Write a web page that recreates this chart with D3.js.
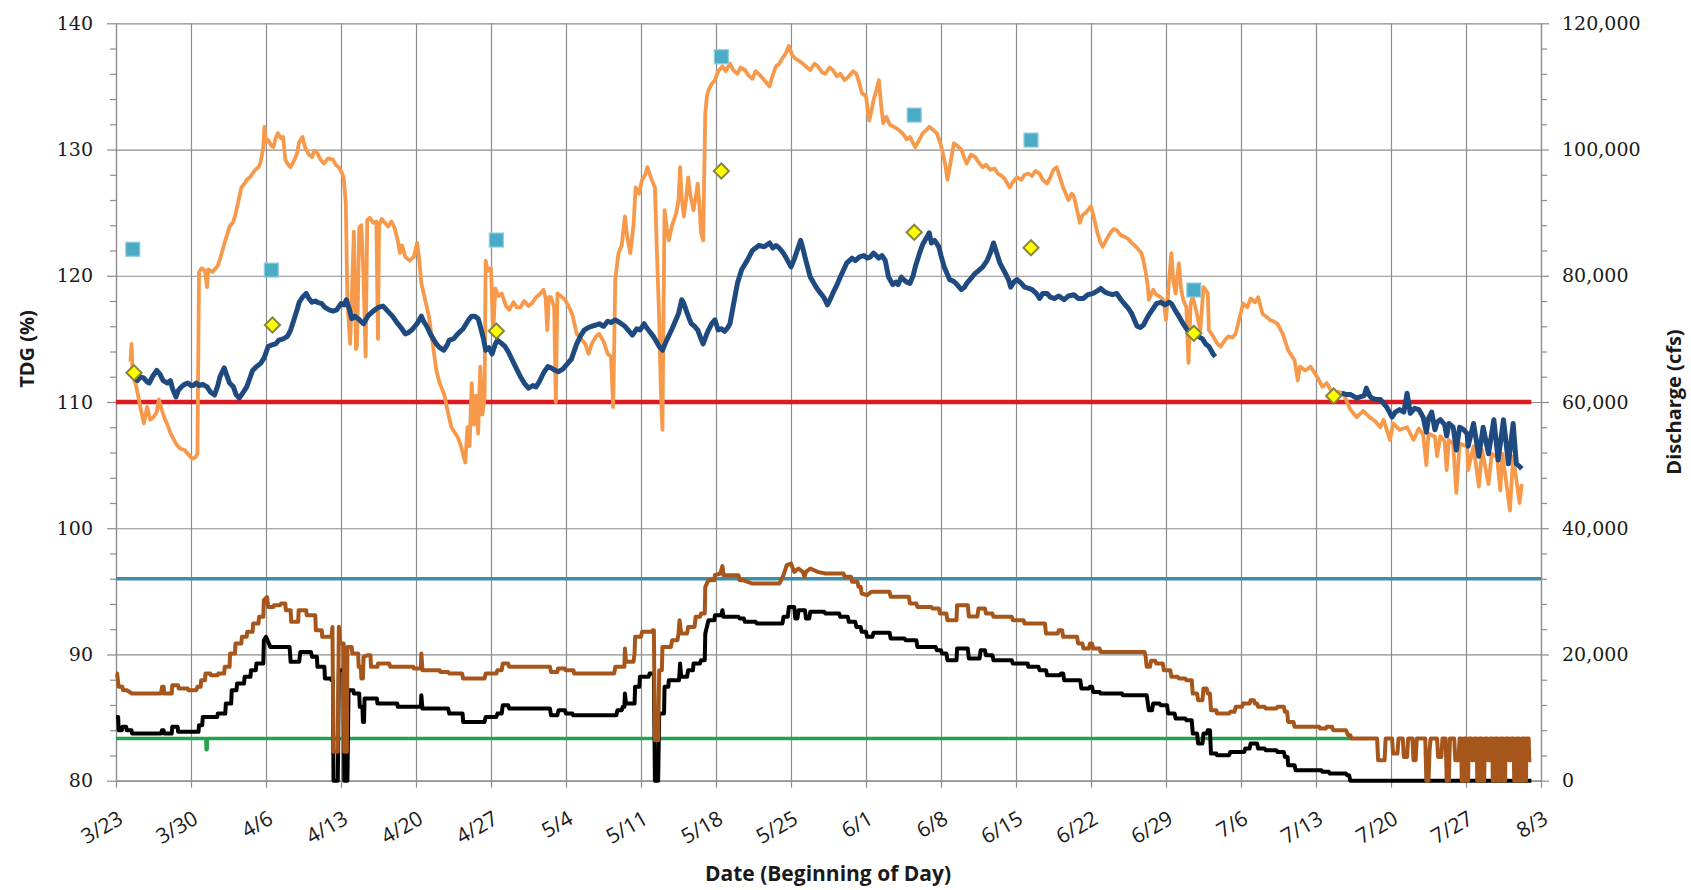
<!DOCTYPE html>
<html><head><meta charset="utf-8">
<script src="https://cdn.jsdelivr.net/npm/d3@7"></script>
<style>
html,body{margin:0;padding:0;background:#fff;}
svg{display:block;}
</style></head><body>
<svg id="chart" width="1691" height="890"></svg>
<script>
// ---------- DATA (x = days after 3/23) ----------
const xTickLabels = ["3/23","3/30","4/6","4/13","4/20","4/27","5/4","5/11","5/18","5/25","6/1","6/8","6/15","6/22","6/29","7/6","7/13","7/20","7/27","8/3"];
const tdgTicks = [80,90,100,110,120,130,140];
const dischargeTicks = [0,20000,40000,60000,80000,100000,120000];

const tdgLimit = 110;            // red line (%)
const dischargeThreshold = 32000; // teal line (cfs)

// Tailwater TDG (%), orange
const tailwaterTDG = [
[1.35,113.2],[1.45,114.6],[1.55,112.3],[1.9,111.2],[2.3,109.5],[2.6,108.3],[2.9,109.6],[3.2,108.6],[3.5,108.8],[3.8,109.2],[4.0,110.2],[4.3,109.3],[4.5,108.8],[4.8,108.2],[5.1,107.5],[5.6,106.7],[6.0,106.3],[6.4,106.2],[6.8,105.8],[7.1,105.5],[7.4,105.6],[7.6,105.9],[7.75,120.3],[8.0,120.6],[8.3,120.4],[8.5,119.1],[8.6,120.5],[9.0,120.3],[9.5,120.8],[9.7,121.3],[10.1,122.5],[10.6,123.9],[10.9,124.2],[11.1,124.7],[11.4,125.8],[11.7,127.0],[12.0,127.3],[12.2,127.6],[12.5,127.8],[12.75,128.1],[13.0,128.4],[13.3,128.6],[13.5,129.0],[13.75,130.2],[13.85,131.8],[14.0,130.6],[14.2,130.75],[14.5,130.3],[14.7,130.2],[14.9,130.9],[15.1,131.3],[15.4,130.9],[15.6,131.0],[15.8,129.2],[16.0,128.9],[16.3,128.6],[16.6,129.1],[16.9,129.7],[17.1,130.6],[17.4,131.0],[17.6,130.3],[17.75,130.0],[18.0,129.6],[18.3,129.4],[18.5,129.9],[18.8,129.7],[19.1,129.2],[19.4,128.9],[19.8,129.3],[20.25,129.2],[20.5,128.8],[20.8,128.6],[21.0,128.3],[21.25,127.8],
[21.45,125.7],[21.6,118],[21.85,114.6],[22.0,118],[22.2,123.5],[22.4,114.2],[22.5,114.5],[22.7,123.8],[22.9,124.0],[23.1,120],[23.3,113.6],[23.45,124.4],[23.7,124.6],[24.0,124.2],[24.3,124.3],[24.45,115.0],[24.55,124.0],[24.8,124.5],[25.1,124.2],[25.4,123.9],[25.7,124.3],[26.0,123.8],[26.3,122.8],[26.5,121.8],[26.7,122.4],[27.0,121.5],[27.4,121.2],[27.8,121.5],[28.1,122.6],[28.3,121.3],[28.5,119.4],[28.8,118.3],[29.2,116.8],[29.5,115.0],[29.9,112.5],[30.2,111.5],[30.6,110.7],[31.0,109.1],[31.3,108.0],[31.6,107.6],[31.9,107.2],[32.2,106.5],[32.6,105.2],
[32.8,108.0],[33.0,106.5],[33.2,111.5],[33.4,108.2],[33.6,110.5],[33.8,107.5],[34.0,112.8],[34.2,109.0],[34.4,110.3],[34.5,121.2],[34.7,120.4],[35.0,120.6],[35.2,115.4],[35.4,119.0],[35.7,118.4],[36.0,118.6],[36.4,117.6],[36.7,117.3],[37.1,117.9],[37.4,117.5],[37.75,117.5],[38.1,118.0],[38.5,117.6],[38.8,117.8],[39.2,118.3],[39.5,118.5],[39.9,118.9],[40.1,118.2],[40.25,115.7],[40.4,118.3],[40.6,118.3],[40.9,117.5],[41.05,110.0],[41.2,118.6],[41.5,118.4],[41.9,118.1],[42.3,117.5],[42.6,116.9],[43.0,115.4],[43.4,115.0],[43.8,114.6],[44.1,113.8],[44.4,114.6],[44.8,115.2],[45.1,115.4],[45.5,114.8],[45.9,113.8],[46.2,113.6],[46.4,109.6],[46.6,119.7],[46.9,121.8],[47.2,122.4],[47.5,124.7],[47.7,123.2],[48.0,121.8],[48.3,124.0],[48.5,127.0],[48.8,126.5],[49.1,127.6],[49.4,128.0],[49.6,128.6],[49.8,128.1],[50.0,127.6],[50.3,127.0],
[50.5,121.5],[50.7,116.5],[50.85,111],[51.0,107.8],[51.1,117],[51.2,125.2],[51.4,123.8],[51.6,122.8],[51.9,124.0],[52.3,125.0],[52.5,126.0],[52.65,128.6],[52.8,126.2],[53.0,124.7],[53.2,126.0],[53.4,127.8],[53.6,126.4],[53.9,125.2],[54.1,126.2],[54.3,127.3],[54.5,125.0],[54.6,123.4],[54.8,122.8],[55.0,132.9],[55.15,134.2],[55.3,134.7],[55.6,135.2],[55.9,135.5],[56.2,136.2],[56.6,136.6],[56.9,136.2],[57.3,136.8],[57.6,136.3],[58.0,136.0],[58.3,136.5],[58.7,136.3],[59.0,135.9],[59.4,135.6],[59.7,136.2],[60.1,135.9],[60.5,135.5],[61.0,135.0],[61.3,135.9],[61.6,136.6],[61.9,136.8],[62.1,137.1],[62.5,137.6],[62.8,138.2],[63.1,137.5],[63.4,137.2],[63.8,137.0],[64.1,136.8],[64.5,136.5],[64.8,136.3],[65.2,136.8],[65.5,136.6],[65.9,136.1],[66.2,136.0],[66.6,136.5],[66.9,136.3],[67.3,135.8],[67.6,136.0],[68.0,135.5],[68.4,135.8],[68.8,136.2],[69.1,136.0],[69.4,135.2],[69.6,134.5],[70.0,134.2],[70.3,132.3],[70.5,133.0],[70.7,133.9],[71.0,134.8],[71.2,135.5],[71.4,133.6],[71.6,132.1],[71.9,132.6],[72.2,132.0],[72.6,131.8],[73.0,131.6],[73.4,131.3],[73.8,130.8],[74.1,131.0],[74.4,130.5],[74.6,130.2],[75.0,130.8],[75.3,131.3],[75.6,131.5],[75.9,131.8],[76.2,131.6],[76.6,131.3],[76.9,130.6],[77.1,130.0],[77.4,128.8],[77.6,127.6],[77.9,129.0],[78.2,130.5],[78.5,130.3],[78.9,130.0],[79.2,129.3],[79.4,128.9],[79.8,129.6],[80.2,129.4],[80.5,129.0],[80.9,128.6],[81.2,128.8],[81.6,128.4],[82.0,128.5],[82.3,128.1],[82.7,127.9],[83.0,127.6],[83.4,127.0],[83.7,127.4],[84.1,127.8],[84.5,127.6],[84.8,128.0],[85.15,128.1],[85.5,127.9],[85.8,128.3],[86.2,128.1],[86.5,127.6],[86.9,127.3],[87.2,127.8],[87.5,128.4],[87.8,128.6],[88.1,127.8],[88.4,127.0],[88.7,126.4],[88.9,126.0],[89.2,126.5],[89.4,126.3],[89.7,125.2],[89.96,124.2],[90.2,124.8],[90.5,125.0],[90.8,125.3],[91.0,125.5],[91.3,124.5],[91.6,123.4],[91.9,122.6],[92.1,122.3],[92.4,122.8],[92.8,123.4],[93.1,123.7],[93.4,123.6],[93.8,123.2],[94.1,123.1],[94.5,122.9],[94.8,122.6],[95.2,122.3],[95.5,122.0],[95.7,121.8],[95.9,121.2],[96.1,120.3],[96.3,119.2],[96.4,118.1],[96.8,118.9],[97.1,118.5],[97.5,118.3],[97.8,118.0],[98.0,116.5],[98.2,118.7],[98.5,121.8],[98.7,119.5],[98.9,118.6],[99.2,121.0],[99.4,119.0],[99.6,118.1],[99.9,117.5],[100.1,113.1],[100.3,117.8],[100.5,118.3],[100.8,117.3],[101.2,115.7],[101.5,119.1],[101.9,118.6],[102.0,115.7],[102.4,115.2],[102.8,114.6],[103.1,114.4],[103.5,114.9],[103.8,115.2],[104.2,115.1],[104.5,115.4],[104.9,116.8],[105.2,117.8],[105.6,117.5],[105.9,118.2],[106.3,117.9],[106.6,118.3],[107.0,117.0],[107.3,116.8],[107.7,116.5],[108.0,116.4],[108.4,116.2],[108.9,115.4],[109.4,114.1],[110.0,113.3],[110.3,111.7],[110.5,112.8],[111.0,112.5],[111.5,112.8],[112.1,112.0],[112.6,111.2],[113.0,111.5],[113.4,110.9],[113.7,110.4],[114.0,110.8],[114.55,110.7],[115.2,109.4],[115.8,108.8],[116.4,109.3],[117.0,108.8],[117.5,108.5],[118.0,108.0],[118.3,108.6],[118.9,107.0],[119.2,108.3],[119.8,107.8],[120.5,108.0],[121.1,107.0],[121.6,107.9],[122.0,107.4],[122.3,105.0],[122.5,107.5],[123.1,107.25],[123.3,105.7],[123.6,107.3],[124.0,106.9],[124.2,104.6],[124.4,107.0],[124.8,106.7],[125.1,102.8],[125.4,106.7],[126.1,106.5],[126.2,104.6],[126.7,106.5],[127.2,103.3],[127.5,106.2],[128.1,103.5],[128.4,105.9],[128.9,105.6],[129.2,103.0],[129.4,105.9],[130.1,101.4],[130.4,105.7],[131.0,102.0],[131.2,103.5]
];

// Forebay TDG (%), navy — two recorded periods
const forebayTDG_A = [
[1.45,112.3],[1.7,111.9],[2.0,111.7],[2.3,112.0],[2.6,111.9],[2.9,111.6],[3.1,111.5],[3.4,112.0],[3.8,112.5],[4.1,112.2],[4.4,111.7],[4.8,111.5],[5.07,111.7],[5.3,111.0],[5.6,110.4],[5.8,110.9],[6.1,111.2],[6.4,111.4],[6.7,111.5],[7.0,111.3],[7.2,111.3],[7.5,111.5],[7.75,111.3],[8.1,111.4],[8.5,111.2],[8.8,110.8],[9.2,110.55],[9.5,111.3],[9.7,112.0],[10.1,112.7],[10.3,112.2],[10.6,111.5],[10.96,111.2],[11.2,110.6],[11.5,110.3],[11.9,110.8],[12.2,111.2],[12.5,111.9],[12.75,112.5],[13.1,112.8],[13.5,113.06],[13.8,113.46],[14.0,113.9],[14.2,114.4],[14.5,114.5],[14.9,114.6],[15.2,114.9],[15.6,115.0],[16.0,115.2],[16.3,115.7],[16.6,116.5],[16.9,117.3],[17.1,117.9],[17.4,118.3],[17.75,118.6],[18.0,118.2],[18.3,117.9],[18.6,118.0],[18.8,117.9],[19.2,117.8],[19.5,117.5],[19.9,117.3],[20.25,117.2],[20.6,117.3],[21.0,117.8],[21.3,117.7],[21.5,118.1],[21.8,117.3],[22.0,116.6],[22.3,116.8],[22.6,116.6],[23.1,116.2],[23.5,116.8],[24.0,117.2],[24.5,117.5],[24.9,117.6],[25.25,117.3],[25.8,116.8],[26.3,116.2],[26.6,115.9],[27.0,115.4],[27.3,115.5],[27.6,115.7],[28.1,116.2],[28.5,116.8],[28.7,116.4],[29.0,116.0],[29.4,115.3],[29.9,114.6],[30.2,114.3],[30.6,114.1],[30.9,114.5],[31.1,114.9],[31.5,115.0],[31.9,115.4],[32.4,115.8],[32.9,116.5],[33.2,116.8],[33.5,116.8],[33.8,116.6],[34.0,116.0],[34.3,115.0],[34.5,114.1],[34.8,114.3],[35.1,113.8],[35.4,114.6],[35.6,114.9],[35.9,114.7],[36.3,114.4],[36.6,114.0],[37.0,113.3],[37.4,112.6],[37.75,112.0],[38.1,111.5],[38.5,111.1],[38.9,111.3],[39.2,111.2],[39.5,111.6],[39.9,112.3],[40.3,112.8],[40.6,112.7],[41.0,112.5],[41.3,112.4],[41.7,112.6],[42.1,113.0],[42.5,113.4],[43.0,114.6],[43.4,115.3],[43.7,115.7],[44.1,115.9],[44.4,116.0],[44.8,116.1],[45.1,116.2],[45.5,116.0],[45.9,116.4],[46.2,116.3],[46.6,116.5],[47.0,116.3],[47.5,116.0],[47.9,115.6],[48.2,115.3],[48.6,115.8],[48.9,115.7],[49.3,116.2],[49.6,115.8],[50.15,115.2],[50.5,114.7],[50.7,114.4],[51.0,114.1],[51.4,114.9],[51.9,115.8],[52.3,116.6],[52.5,117.0],[52.8,118.1],[53.0,117.8],[53.2,117.3],[53.5,116.6],[53.7,116.2],[54.0,116.0],[54.3,115.7],[54.6,115.0],[54.8,114.6],[55.1,115.3],[55.3,115.7],[55.6,116.2],[55.9,116.5],[56.2,115.7],[56.5,115.8],[56.8,115.6],[57.1,115.9],[57.3,116.2],[57.65,117.8],[58.0,119.4],[58.4,120.5],[58.9,121.2],[59.4,122.0],[60.0,122.4],[60.5,122.3],[61.0,122.6],[61.3,122.2],[61.6,122.4],[61.9,122.2],[62.2,121.9],[62.5,121.5],[63.0,120.7],[63.3,121.3],[63.5,121.8],[63.9,122.8],[64.1,122.2],[64.3,121.5],[64.8,119.9],[65.2,119.3],[65.5,118.9],[66.05,118.3],[66.4,117.7],[66.7,118.2],[66.9,118.6],[67.3,119.3],[67.6,119.9],[68.2,121.0],[68.7,121.4],[69.0,121.2],[69.4,121.5],[69.8,121.6],[70.1,121.4],[70.4,121.5],[70.7,121.8],[71.2,121.4],[71.5,121.6],[71.8,121.2],[72.1,119.9],[72.5,119.3],[72.8,119.5],[73.0,119.3],[73.3,119.9],[73.5,119.7],[73.8,119.5],[74.1,119.4],[74.4,120.0],[74.6,120.7],[75.0,121.8],[75.3,122.5],[75.5,122.8],[75.7,123.1],[75.9,123.4],[76.1,122.6],[76.4,122.8],[76.8,122.3],[77.0,121.6],[77.3,120.7],[77.6,120.1],[77.8,119.7],[78.1,119.6],[78.4,119.4],[78.9,118.9],[79.2,119.1],[79.4,119.4],[79.8,119.8],[80.2,120.2],[80.5,120.4],[80.9,120.7],[81.3,121.2],[81.6,121.8],[81.9,122.6],[82.2,121.8],[82.5,121.0],[83.0,120.2],[83.3,119.7],[83.5,119.1],[83.8,119.5],[84.1,119.7],[84.5,119.4],[84.8,119.1],[85.2,119.0],[85.5,118.9],[85.9,118.6],[86.2,118.2],[86.5,118.6],[86.9,118.6],[87.2,118.3],[87.6,118.2],[88.0,118.4],[88.5,118.1],[88.9,118.4],[89.4,118.5],[89.8,118.2],[90.3,118.2],[90.7,118.5],[91.2,118.6],[91.6,118.8],[91.9,119.0],[92.3,118.7],[92.6,118.6],[93.0,118.5],[93.4,118.6],[93.8,118.1],[94.1,117.8],[94.5,117.4],[94.8,117.0],[95.1,116.4],[95.3,116.0],[95.6,115.9],[95.9,116.1],[96.2,116.6],[96.4,116.9],[96.8,117.4],[97.1,117.8],[97.5,117.9],[97.9,117.7],[98.3,117.9],[98.5,117.8],[98.9,117.2],[99.2,116.8],[99.6,116.2],[100.0,115.7],[100.3,115.4],[100.7,115.5],[101.0,115.2],[101.4,115.0],[101.7,114.6],[102.0,114.4],[102.4,113.8],[102.6,113.6]
];
const forebayTDG_B = [
[114.4,110.7],[114.8,110.6],[115.2,110.6],[115.8,110.3],[116.1,110.4],[116.5,110.5],[116.7,111.1],[117.0,110.5],[117.2,110.3],[117.6,110.2],[118.0,110.2],[118.6,109.6],[119.1,108.8],[119.4,109.2],[119.8,109.4],[120.2,109.2],[120.5,110.7],[120.8,109.1],[121.2,109.5],[121.6,109.4],[122.0,108.8],[122.3,107.6],[122.5,108.7],[122.8,109.2],[123.1,107.8],[123.3,108.4],[123.6,108.6],[124.0,108.2],[124.2,107.3],[124.4,108.3],[124.8,108.0],[125.1,106.2],[125.4,108.0],[125.8,107.8],[126.1,107.5],[126.2,106.5],[126.7,108.3],[127.2,105.7],[127.6,108.0],[128.1,105.9],[128.6,108.6],[129.0,105.4],[129.5,108.6],[129.96,105.1],[130.4,108.3],[130.7,105.1],[131.0,104.9],[131.2,104.7]
];

// Total discharge (cfs), brown
const totalDischarge = [
[0,17000],[0.1,17000],[0.25,14870],[0.6,14870],[0.65,14340],[1.0,14340],[1.5,13810],[4.2,13810],[4.3,14870],[4.45,14870],[4.5,13810],[5.2,13810],[5.25,15130],[5.8,15130],[5.85,14600],[6.7,14600],[6.75,14340],[7.5,14340],[7.6,14870],[7.9,14870],[7.95,15920],[8.3,15920],[8.35,16980],[8.8,16980],[8.85,16710],[9.5,16710],[9.55,16980],[10.1,16980],[10.15,18040],[10.6,18040],[10.65,20150],[11.1,20150],[11.15,21730],[11.7,21730],[11.75,22790],[12.2,22790],[12.25,23580],[12.75,23580],[12.8,24900],[13.3,24900],[13.35,25960],[13.75,25960],[13.8,28600],[14.1,29100],[14.2,27540],[14.7,27540],[14.75,27810],[15.3,27810],[15.4,28070],[15.8,28070],[15.85,27020],[16.3,27020],[16.35,25170],[17.0,25170],[17.05,27020],[17.75,27020],[17.8,26220],[18.6,26220],[18.65,23850],[19.2,23850],[19.25,22790],[20.1,22790],[20.2,24370],[20.3,4600],[20.7,4600],[20.8,24400],[20.9,21730],[21.25,21730],[21.3,4600],[21.55,4600],[21.6,21200],[22.0,21200],[22.05,20150],[22.6,20150],[22.65,18040],[22.85,18040],[22.9,16190],[23.05,16190],[23.1,19620],[23.5,19880],[23.75,19880],[23.8,18040],[24.4,18040],[24.45,18560],[25.5,18560],[25.6,18040],[27.75,18040],[27.8,17770],[28.45,17770],[28.5,20150],[28.6,17510],[30.2,17510],[30.25,17240],[31.0,17240],[31.1,16980],[32.3,16980],[32.4,16190],[34.4,16190],[34.5,16980],[35.5,16980],[35.6,17510],[36.0,17510],[36.1,18560],[36.6,18560],[36.7,18040],[40.5,18040],[40.6,17240],[41.2,17240],[41.25,17770],[41.9,17770],[41.95,17510],[42.7,17510],[42.75,16980],[46.5,16980],[46.6,18040],[47.45,18040],[47.5,20940],[47.6,18830],[48.3,18830],[48.4,20150],[48.45,22790],[49.0,22790],[49.1,23580],[50.0,23580],[50.1,23850],[50.2,23850],[50.3,6400],[50.6,6400],[50.7,17510],[50.95,17510],[51.0,21200],[51.8,21200],[51.9,22260],[52.4,22260],[52.5,23320],[52.6,25430],[52.75,23320],[53.3,23320],[53.4,24370],[54.0,24370],[54.1,25960],[54.5,25960],[54.6,26490],[54.95,26490],[55.0,30720],[55.3,31770],[55.85,31770],[55.9,32560],[56.4,32830],[56.6,33990],[56.7,32560],[58.1,32560],[58.2,31770],[58.5,31770],[59.4,31240],[61.9,31240],[62.0,31510],[62.3,32560],[62.6,34150],[63.0,34410],[63.3,33090],[63.7,33620],[64.1,33090],[64.25,32300],[64.4,33090],[64.8,33620],[65.5,33090],[66.2,32830],[67.9,32830],[68.0,32300],[68.6,32300],[68.7,31510],[69.2,31510],[69.3,30720],[69.5,30720],[69.6,29660],[70.1,29390],[70.5,29920],[72.2,29920],[72.3,29130],[74.0,29130],[74.1,28070],[74.7,28070],[74.8,27540],[76.1,27540],[76.2,27280],[76.8,27280],[76.9,26490],[77.5,26490],[77.6,25430],[78.45,25430],[78.5,27810],[79.5,27810],[79.6,26000],[80.4,26000],[80.5,27280],[81.1,27280],[81.2,26490],[81.8,26490],[81.9,25960],[83.6,25960],[83.7,25430],[84.7,25430],[84.8,24900],[86.7,24900],[86.8,23320],[87.9,23320],[88.0,23850],[88.3,23850],[88.4,22790],[89.7,22790],[89.8,21730],[90.2,21730],[90.3,20940],[90.8,20940],[90.9,21730],[91.1,21730],[91.2,20940],[91.8,20940],[91.9,20410],[96.0,20410],[96.1,19620],[96.2,18040],[96.5,18040],[96.6,19000],[97.0,19000],[97.1,18560],[97.7,18560],[97.8,17510],[98.4,17510],[98.5,16450],[99.1,16450],[99.2,16190],[99.8,16190],[99.9,15920],[100.4,15920],[100.5,13810],[100.9,13810],[101.0,12750],[101.4,12750],[101.5,14600],[101.8,14600],[101.9,13810],[102.1,13810],[102.2,11170],[102.7,11170],[102.75,10640],[103.9,10640],[104.0,10910],[104.4,10910],[104.5,11700],[105.1,11700],[105.2,12220],[105.8,12220],[105.9,12750],[106.2,12750],[106.3,12220],[106.5,12220],[106.6,11700],[107.2,11700],[107.3,11430],[108.3,11430],[108.4,11700],[109.0,11700],[109.1,10910],[109.3,10910],[109.4,9320],[109.9,9320],[110.0,8530],[112.3,8530],[112.4,8260],[112.9,8260],[113.0,8530],[113.5,8530],[113.6,8000],[114.8,8000],[115.0,7210],[115.2,7210],[115.3,6680],[117.7,6680],[117.8,3250],[118.4,3250],[118.5,6680],[119.1,6680],[119.2,4300],[119.6,4300],[119.7,6680],[120.1,6680],[120.2,3770],[120.5,3770],[120.6,6680],[121.0,6680],[121.1,3250],[121.3,3250],[121.4,6680],[122.2,6680],[122.3,0],[122.5,0],[122.6,4830],[122.7,6680],[123.3,6680],[123.4,3770],[123.7,3770],[123.8,6680],[124.1,6680],[124.2,0],[124.4,0],[124.5,6680],[124.9,6680],[125.0,3250],[125.3,3250],[125.4,6680],[125.55,6680],[125.6,0],[125.75,0],[125.8,6680],[126.0,6680],[126.05,0],[126.2,0],[126.25,6680],[126.5,6680],[126.55,3250],[126.7,3250],[126.75,6680],[127.0,6680],[127.05,0],[127.2,0],[127.25,6680],[127.5,6680],[127.55,0],[127.7,0],[127.75,6680],[128.0,6680],[128.05,3250],[128.2,3250],[128.25,6680],[128.45,6680],[128.5,0],[128.65,0],[128.7,6680],[128.95,6680],[129.0,0],[129.15,0],[129.2,6680],[129.45,6680],[129.5,0],[129.65,0],[129.7,6680],[129.95,6680],[130.0,3250],[130.15,3250],[130.2,6680],[130.45,6680],[130.5,0],[130.65,0],[130.7,6680],[130.95,6680],[131.0,0],[131.15,0],[131.2,6680],[131.45,6680],[131.5,0],[131.6,0],[131.65,6680],[131.85,6680],[131.9,3250],[132.1,3250]
];

// Spill discharge (cfs), black
const spillDischarge = [
[0,10110],[0.2,10110],[0.25,8000],[0.55,8000],[0.6,8530],[0.95,8530],[1.0,8000],[1.45,8000],[1.5,7470],[4.2,7470],[4.3,8000],[4.45,8000],[4.5,7470],[5.2,7470],[5.25,8530],[5.75,8530],[5.8,7740],[7.7,7740],[7.75,8790],[8.05,8790],[8.1,10110],[9.45,10110],[9.5,10640],[10.2,10640],[10.25,12220],[10.75,12220],[10.8,14340],[11.25,14340],[11.3,15400],[11.95,15400],[12.0,16450],[12.55,16450],[12.6,17510],[13.05,17510],[13.1,18560],[13.75,18560],[13.8,22260],[14.0,22800],[14.4,21200],[16.2,21200],[16.3,18830],[17.1,18830],[17.2,20410],[18.2,20410],[18.3,19620],[18.75,19620],[18.8,18040],[19.45,18040],[19.5,16190],[20.05,16190],[20.1,15920],[20.25,15920],[20.3,0],[20.7,0],[20.8,17510],[21.25,17510],[21.3,0],[21.6,0],[21.7,14340],[22.15,14340],[22.2,13810],[22.7,13810],[22.75,11700],[23.0,11700],[23.05,9320],[23.15,9320],[23.2,13020],[24.35,13020],[24.4,12220],[26.25,12220],[26.3,11700],[28.45,11700],[28.5,13550],[28.6,11430],[31.0,11430],[31.1,10640],[32.35,10640],[32.4,9320],[34.4,9320],[34.5,10110],[35.5,10110],[35.6,10640],[36.0,10640],[36.1,11960],[36.6,11960],[36.7,11430],[40.5,11430],[40.6,10380],[41.2,10380],[41.3,11170],[41.9,11170],[42.0,10640],[42.6,10640],[42.65,10380],[46.7,10380],[46.8,11170],[47.2,11170],[47.3,11700],[47.45,11700],[47.5,13810],[47.6,12220],[48.4,12220],[48.45,14870],[48.85,14870],[48.9,16450],[49.7,16450],[49.8,16980],[50.2,16980],[50.3,0],[50.6,0],[50.7,10640],[51.15,10640],[51.2,14870],[51.55,14870],[51.6,15920],[52.55,15920],[52.65,18560],[52.75,16450],[53.3,16450],[53.4,17510],[53.85,17510],[53.9,18560],[54.5,18560],[54.6,19090],[54.95,19090],[55.0,23320],[55.3,25430],[55.85,25430],[55.9,26220],[56.5,26220],[56.6,27020],[56.7,25960],[58.1,25960],[58.2,25700],[58.6,25700],[58.7,25170],[59.7,25170],[59.8,24900],[62.2,24900],[62.3,25960],[62.7,25960],[62.8,27540],[63.3,27540],[63.4,25700],[63.6,25700],[63.7,27020],[64.3,27020],[64.4,25700],[64.7,25700],[64.8,26750],[66.1,26750],[66.2,26490],[67.5,26490],[67.6,25960],[68.3,25960],[68.4,25170],[69.0,25170],[69.1,24370],[69.5,24370],[69.6,23580],[70.0,23580],[70.1,22790],[70.6,22790],[70.7,23450],[72.2,23450],[72.3,22530],[73.6,22530],[73.7,22260],[74.7,22260],[74.8,21200],[76.5,21200],[76.6,20680],[77.0,20680],[77.1,20150],[77.5,20150],[77.6,19090],[78.45,19090],[78.5,20940],[79.5,20940],[79.6,19350],[80.6,19350],[80.7,20680],[81.1,20680],[81.2,19880],[81.8,19880],[81.9,19090],[83.6,19090],[83.7,18560],[85.1,18560],[85.15,18040],[86.1,18040],[86.2,17510],[86.8,17510],[86.9,16710],[88.1,16710],[88.2,16980],[88.4,16980],[88.5,15920],[90.0,15920],[90.1,14600],[90.8,14600],[90.9,14870],[91.1,14870],[91.2,14070],[91.8,14070],[91.9,13810],[93.9,13810],[93.95,13540],[96.2,13540],[96.4,11170],[96.7,11170],[96.8,12220],[97.4,12220],[97.5,11960],[98.1,11960],[98.2,10640],[98.8,10640],[98.9,9850],[99.8,9850],[99.9,9580],[100.4,9580],[100.5,7470],[100.9,7470],[101.0,5890],[101.4,5890],[101.5,7470],[101.8,7470],[101.9,8000],[102.1,8000],[102.2,4300],[102.7,4300],[102.75,4030],[103.9,4030],[104.0,4560],[105.3,4560],[105.4,5090],[105.8,5090],[105.9,5890],[106.5,5890],[106.6,5090],[107.2,5090],[107.3,4830],[108.3,4830],[108.4,4560],[109.0,4560],[109.1,3770],[109.35,3770],[109.4,2450],[110.0,2450],[110.1,1660],[112.5,1660],[112.6,1400],[113.2,1400],[113.3,1130],[114.8,1130],[114.9,860],[115.1,860],[115.2,0],[132.1,0]
];

// Powerhouse discharge (cfs), green
const powerhouseDischarge = [[0,6680],[8.4,6680],[8.42,4930],[8.5,4930],[8.52,6680],[115.3,6680]];

// Spot samples (%): squares (light blue) and diamonds (yellow)
const sampleSquares = [[1.57,122.1],[14.5,120.45],[35.5,122.83],[56.5,137.35],[74.5,132.73],[85.4,130.75],[100.6,118.87]];
const sampleDiamonds = [[1.68,112.32],[14.6,116.1],[35.5,115.62],[56.5,128.3],[74.5,123.44],[85.4,122.22],[100.6,115.44],[113.65,110.47]];

// ---------- CHART ----------
const L = 116, R = 1541, T = 23.3, B = 780.7;
const svg = d3.select("#chart");

const x = d3.scaleLinear().domain([0, (xTickLabels.length - 1) * 7]).range([L, R]);
const yL = d3.scaleLinear().domain([80, 140]).range([B, T]);
const yR = d3.scaleLinear().domain([0, 120000]).range([B, T]);
const xTickVals = xTickLabels.map((_, i) => i * 7);

const gridColor = "#8c8c8c";

// gridlines
svg.append("g").attr("transform", `translate(${L},0)`)
  .call(d3.axisLeft(yL).tickValues(tdgTicks).tickSize(-(R - L)).tickFormat(""))
  .call(g => g.select(".domain").remove())
  .call(g => g.selectAll("line").attr("stroke", gridColor).attr("stroke-width", 1.2));
svg.append("g").attr("transform", `translate(0,${B})`)
  .call(d3.axisBottom(x).tickValues(xTickVals).tickSize(-(B - T)).tickFormat(""))
  .call(g => g.select(".domain").remove())
  .call(g => g.selectAll("line").attr("stroke", gridColor).attr("stroke-width", 1.2));

// left axis
const minorL = d3.range(82, 140, 2).filter(v => v % 10 !== 0);
svg.append("g").attr("transform", `translate(${L},0)`)
  .call(d3.axisLeft(yL).tickValues(minorL).tickSize(6).tickSizeOuter(0).tickFormat(""))
  .call(g => g.select(".domain").remove())
  .call(g => g.selectAll("line").attr("stroke", gridColor).attr("stroke-width", 1.2));
svg.append("g").attr("transform", `translate(${L},0)`)
  .call(d3.axisLeft(yL).tickValues(tdgTicks).tickSize(9).tickSizeOuter(0).tickPadding(14))
  .call(g => g.select(".domain").attr("stroke", gridColor).attr("stroke-width", 1.2))
  .call(g => g.selectAll("line").attr("stroke", gridColor).attr("stroke-width", 1.2))
  .call(g => g.selectAll("text").attr("font-family", "DejaVu Serif").attr("font-size", 19).attr("fill", "#1a1a1a"));

// right axis
const minorR = d3.range(4000, 120000, 4000).filter(v => v % 20000 !== 0);
svg.append("g").attr("transform", `translate(${R},0)`)
  .call(d3.axisRight(yR).tickValues(minorR).tickSize(6).tickSizeOuter(0).tickFormat(""))
  .call(g => g.select(".domain").remove())
  .call(g => g.selectAll("line").attr("stroke", gridColor).attr("stroke-width", 1.2));
svg.append("g").attr("transform", `translate(${R},0)`)
  .call(d3.axisRight(yR).tickValues(dischargeTicks).tickSize(8).tickSizeOuter(0).tickPadding(13).tickFormat(d3.format(",")))
  .call(g => g.select(".domain").attr("stroke", gridColor).attr("stroke-width", 1.2))
  .call(g => g.selectAll("line").attr("stroke", gridColor).attr("stroke-width", 1.2))
  .call(g => g.selectAll("text").attr("font-family", "DejaVu Serif").attr("font-size", 19).attr("fill", "#1a1a1a"));

// bottom axis
svg.append("g").attr("transform", `translate(0,${B})`)
  .call(d3.axisBottom(x).tickValues(xTickVals).tickSize(7).tickSizeOuter(0).tickFormat((d, i) => xTickLabels[i]))
  .call(g => g.select(".domain").attr("stroke", gridColor).attr("stroke-width", 1.2))
  .call(g => g.selectAll("line").attr("stroke", gridColor).attr("stroke-width", 1.2))
  .call(g => g.selectAll("text")
     .attr("x", 0).attr("y", 0).attr("dy", 0)
     .attr("text-anchor", "end")
     .attr("transform", "translate(8,42) rotate(-30)")
     .attr("font-family", "Open Sans").attr("font-size", 21).attr("fill", "#1a1a1a"));

// axis titles
svg.append("text").attr("transform", "translate(26,349) rotate(-90)")
  .attr("text-anchor", "middle").attr("dominant-baseline", "central")
  .attr("font-family", "Open Sans").attr("font-weight", "bold").attr("font-size", 20).attr("fill", "#1a1a1a")
  .text("TDG (%)");
svg.append("text").attr("transform", "translate(1673,402) rotate(-90)")
  .attr("text-anchor", "middle").attr("dominant-baseline", "central")
  .attr("font-family", "Open Sans").attr("font-weight", "bold").attr("font-size", 20).attr("fill", "#1a1a1a")
  .text("Discharge (cfs)");
svg.append("text").attr("x", 828).attr("y", 873)
  .attr("text-anchor", "middle").attr("dominant-baseline", "central")
  .attr("font-family", "Open Sans").attr("font-weight", "bold").attr("font-size", 21).attr("fill", "#1a1a1a")
  .text("Date (Beginning of Day)");

// lines
const lineT = d3.line().x(d => x(d[0])).y(d => yL(d[1]));
const lineQ = d3.line().x(d => x(d[0])).y(d => yR(d[1]));
function draw(path, data, color, width) {
  svg.append("path").datum(data).attr("d", path).attr("fill", "none")
    .attr("stroke", color).attr("stroke-width", width)
    .attr("stroke-linejoin", "round").attr("stroke-linecap", "butt");
}
draw(lineQ, [[0, dischargeThreshold], [x.domain()[1], dischargeThreshold]], "#3f8ea8", 3.4);
draw(lineQ, powerhouseDischarge, "#22a24e", 3.6);
draw(lineQ, spillDischarge, "#000000", 4);
draw(lineQ, totalDischarge, "#a6561a", 4);
draw(lineT, [[0, tdgLimit], [132.1, tdgLimit]], "#dc1a1f", 4.5);
draw(lineT, tailwaterTDG, "#f6994a", 3.8);
draw(lineT, forebayTDG_A, "#1f4a80", 5);
draw(lineT, forebayTDG_B, "#1f4a80", 5);

// markers
svg.append("g").selectAll("rect").data(sampleSquares).join("rect")
  .attr("x", d => x(d[0]) - 7).attr("y", d => yL(d[1]) - 7)
  .attr("width", 14).attr("height", 14)
  .attr("fill", "#4aabc6").attr("stroke", "#8fcde0").attr("stroke-width", 1.2);
svg.append("g").selectAll("path").data(sampleDiamonds).join("path")
  .attr("d", d3.symbol(d3.symbolSquare, 115))
  .attr("transform", d => `translate(${x(d[0])},${yL(d[1])}) rotate(45)`)
  .attr("fill", "#ffff00").attr("stroke", "#85853e").attr("stroke-width", 2);
</script></body></html>
